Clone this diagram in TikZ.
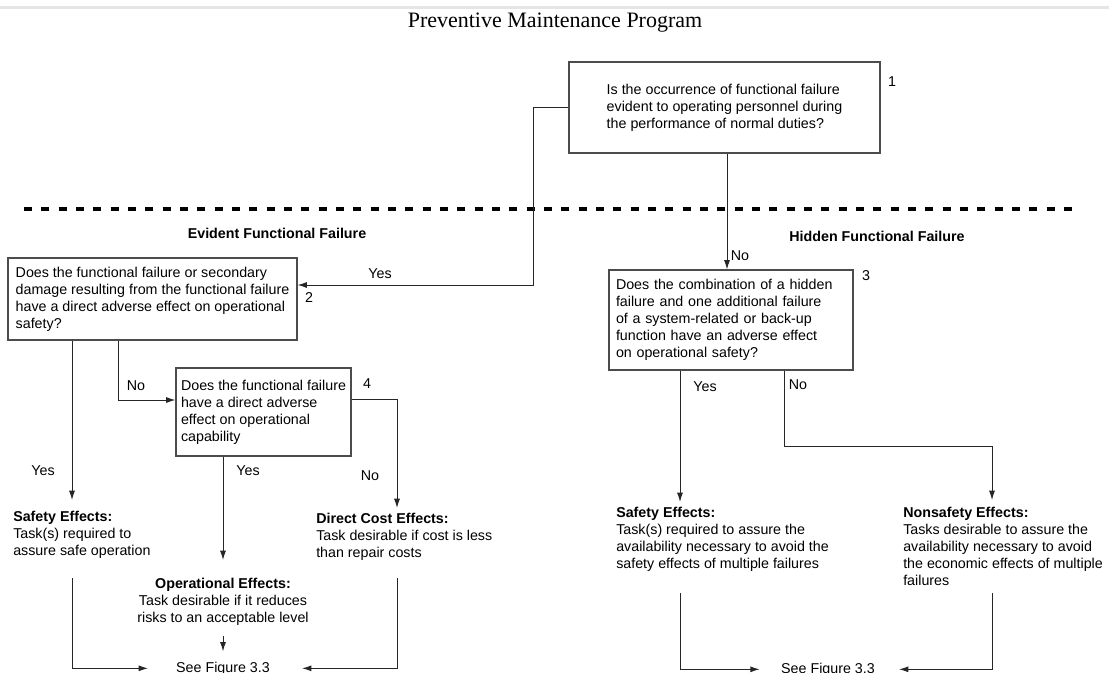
\documentclass[tikz,border=0pt]{standalone}
\usepackage{fontspec}
\setmainfont{Liberation Serif}
\setsansfont{Liberation Sans}
\usetikzlibrary{arrows,arrows.meta,positioning}
\newcommand{\flowfont}{\sffamily\fontsize{10.7}{12.75}\selectfont}
\tikzstyle{question}=[draw=black!70,line width=0.8pt,align=left,font=\flowfont]
\tikzstyle{effect}=[inner sep=0pt,align=left,anchor=north west,font=\flowfont]
\tikzstyle{answer}=[inner sep=0pt,font=\flowfont]
\tikzstyle{heading}=[inner sep=0pt,font=\flowfont\bfseries]
\tikzstyle{flow}=[draw=black!85,line width=0.7pt,-{Latex[length=7pt,width=4.5pt]}]
\tikzstyle{divider}=[line width=3pt,dash pattern=on 6pt off 7pt]

\begin{document}
\begin{tikzpicture}[x=0.75pt,y=-0.75pt]
  \useasboundingbox (0,0) rectangle (1109,672);
  \fill[black!10] (0,6) rectangle (1109,9);

  \node[font=\rmfamily\fontsize{16.5}{20}\selectfont,anchor=base] (title) at (555,27) {Preventive Maintenance Program};

  \node[question,minimum width=233.25pt,minimum height=68.25pt] (q1) at (724.5,107.5)
    {Is the occurrence of functional failure\\evident to operating personnel during\\the performance of normal duties?};
  \node[question,minimum width=216.75pt,minimum height=61.5pt] (q2) at (152.5,299)
    {Does the functional failure or secondary\\damage resulting from the functional failure\\have a direct adverse effect on operational\\safety?};
  \node[question,minimum width=131.25pt,minimum height=66pt] (q4) at (263.5,412)
    {Does the functional failure\\have a direct adverse\\effect on operational\\capability};
  \node[question,text width=172.5pt,inner xsep=5.25pt,minimum height=75pt] (q3) at (731,320)
    {Does the combination of a hidden\\failure and one additional failure\\of a system-related or back-up\\function have an adverse effect\\on operational safety?};

  \node[answer] (n1) at (892,82) {1};
  \node[answer] (n2) at (309,298) {2};
  \node[answer] (n3) at (866,276) {3};
  \node[answer] (n4) at (367,384) {4};

  \draw[divider] (24,209) -- (1080,209);
  \node[heading] (evident) at (277,233) {Evident Functional Failure};
  \node[heading] (hidden) at (877,236) {Hidden Functional Failure};

  \node[effect] (safeL) at (13,510.7) {\textbf{Safety Effects:}\\Task(s) required to\\assure safe operation};
  \node[effect] (dcost) at (316,512.7) {\textbf{Direct Cost Effects:}\\Task desirable if cost is less\\than repair costs};
  \node[effect,anchor=north,align=center] (oper) at (223,577.7) {\textbf{Operational Effects:}\\Task desirable if it reduces\\risks to an acceptable level};
  \node[effect] (safeR) at (616,506.7) {\textbf{Safety Effects:}\\Task(s) required to assure the\\availability necessary to avoid the\\safety effects of multiple failures};
  \node[effect] (nonsafe) at (903,506.7) {\textbf{Nonsafety Effects:}\\Tasks desirable to assure the\\availability necessary to avoid\\the economic effects of multiple\\failures};

  \node[answer,anchor=base] (seeL) at (223,672) {See Figure 3.3};
  \node[answer,anchor=base] (seeR) at (828,673) {See Figure 3.3};

  \node[answer] (yes1) at (380,274) {Yes};
  \node[answer] (no1) at (740,256) {No};
  \node[answer] (no2) at (136,386) {No};
  \node[answer] (yes2) at (43,471) {Yes};
  \node[answer] (yes4) at (248,471) {Yes};
  \node[answer] (no4) at (370,476) {No};
  \node[answer] (yes3) at (705,387) {Yes};
  \node[answer] (no3) at (798,385) {No};

  \coordinate (k1) at (533,285);
  \coordinate (kNo) at (118,400);
  \coordinate (kDc) at (397,399);
  \coordinate (kNs) at (784,446);
  \coordinate (tSafeL) at (72,500);
  \coordinate (tOper) at (223,560);
  \coordinate (tDc) at (397,508);
  \coordinate (tSafeR) at (680,502);
  \coordinate (tNs) at (992,500);
  \coordinate (sL) at (72,578);
  \coordinate (sDc) at (397,578);
  \coordinate (sR) at (680,593);
  \coordinate (sNs) at (992,593);

  \draw[flow] (q1.west) -| (k1) -- (k1 -| q2.east);
  \draw[flow] (q1.south -| 727,0) -- (q3.north -| 727,0);
  \draw[flow] (q2.south -| tSafeL) -- (tSafeL);
  \draw[flow] (q2.south -| kNo) -- (kNo) -- (kNo -| q4.west);
  \draw[flow] (q4.south -| tOper) -- (tOper);
  \draw[flow] (kDc -| q4.east) -- (kDc) -- (tDc);
  \draw[flow,shorten <=7.5pt,shorten >=7.5pt] (oper.south) -- (oper.south |- seeL.north);
  \draw[flow] (sL) |- ([xshift=-21pt]seeL.west);
  \draw[flow] (sDc) |- ([xshift=24pt]seeL.east);
  \draw[flow] (q3.south -| tSafeR) -- (tSafeR);
  \draw[flow] (q3.south -| kNs) -- (kNs) -| (tNs);
  \draw[flow] (sR) |- ([xshift=-16pt]seeR.west);
  \draw[flow] (sNs) |- ([xshift=18pt]seeR.east);
\end{tikzpicture}
\end{document}
